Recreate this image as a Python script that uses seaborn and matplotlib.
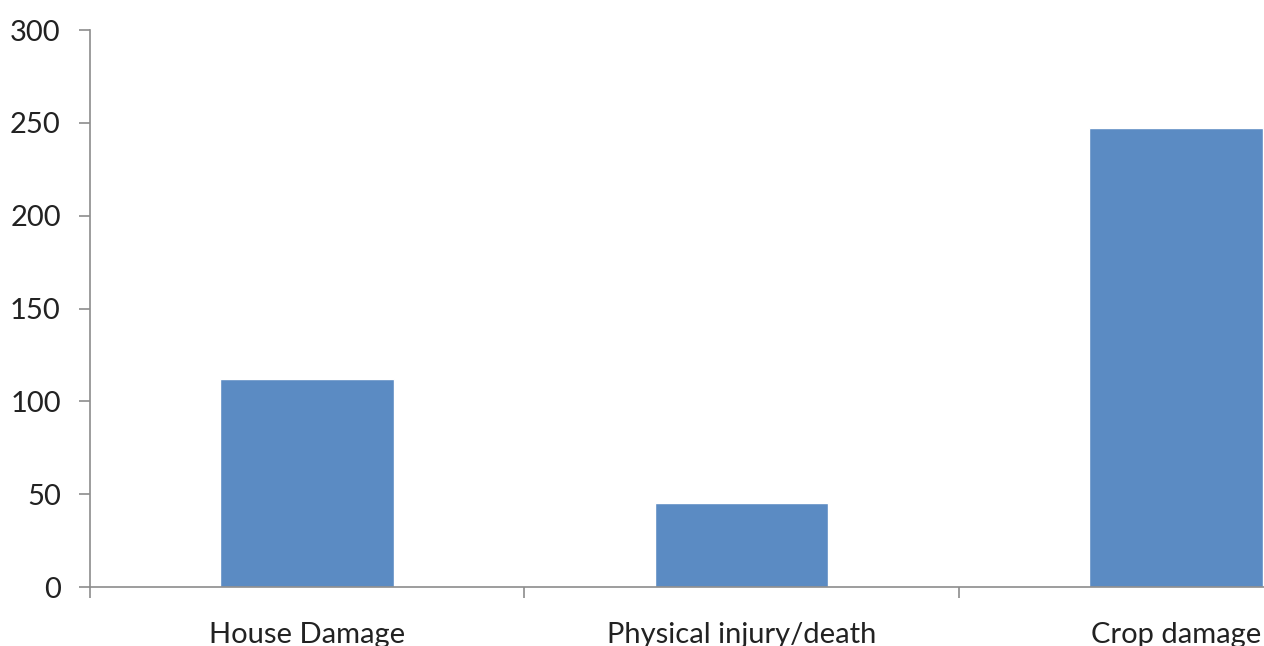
import matplotlib
matplotlib.use("Agg")
import matplotlib.pyplot as plt
import seaborn as sns
import pandas as pd

categories = ["House Damage", "Physical injury/death", "Crop damage"]
counts = [112, 45, 247]

df = pd.DataFrame({"Category": categories, "Count": counts})

sns.set_style("white")
plt.rcParams["font.family"] = ["Lato", "DejaVu Sans"]

fig = plt.figure(figsize=(12.64, 6.46), dpi=100)
# axes runs past the right edge of the figure, as in the original
ax = fig.add_axes([90 / 1264, 59 / 646, 1303 / 1264, 557 / 646])

sns.barplot(data=df, x="Category", y="Count", color="#5B8BC3", saturation=1,
            width=0.4, ax=ax)

ax.set_xlim(-0.5, 2.5)
ax.set_ylim(0, 300)
ax.set_yticks(range(0, 301, 50))
ax.set_xlabel("")
ax.set_ylabel("")

for s in ["top", "right"]:
    ax.spines[s].set_visible(False)
for s in ["left", "bottom"]:
    ax.spines[s].set_color("#8c8c8c")
    ax.spines[s].set_linewidth(1.2)

# labels at centres, tick marks at category boundaries
ax.set_xticks([-0.5, 0.5, 1.5, 2.5], minor=True)
ax.tick_params(axis="x", which="major", bottom=True, length=0, pad=25,
               labelsize=21, colors="#222222")
ax.tick_params(axis="x", which="minor", bottom=True, length=8, width=1.2,
               color="#8c8c8c", direction="out")
ax.tick_params(axis="y", left=True, length=8, width=1.2, color="#8c8c8c",
               direction="out", pad=13, labelsize=21, labelcolor="#222222")

fig.savefig("out.png", dpi=100)
